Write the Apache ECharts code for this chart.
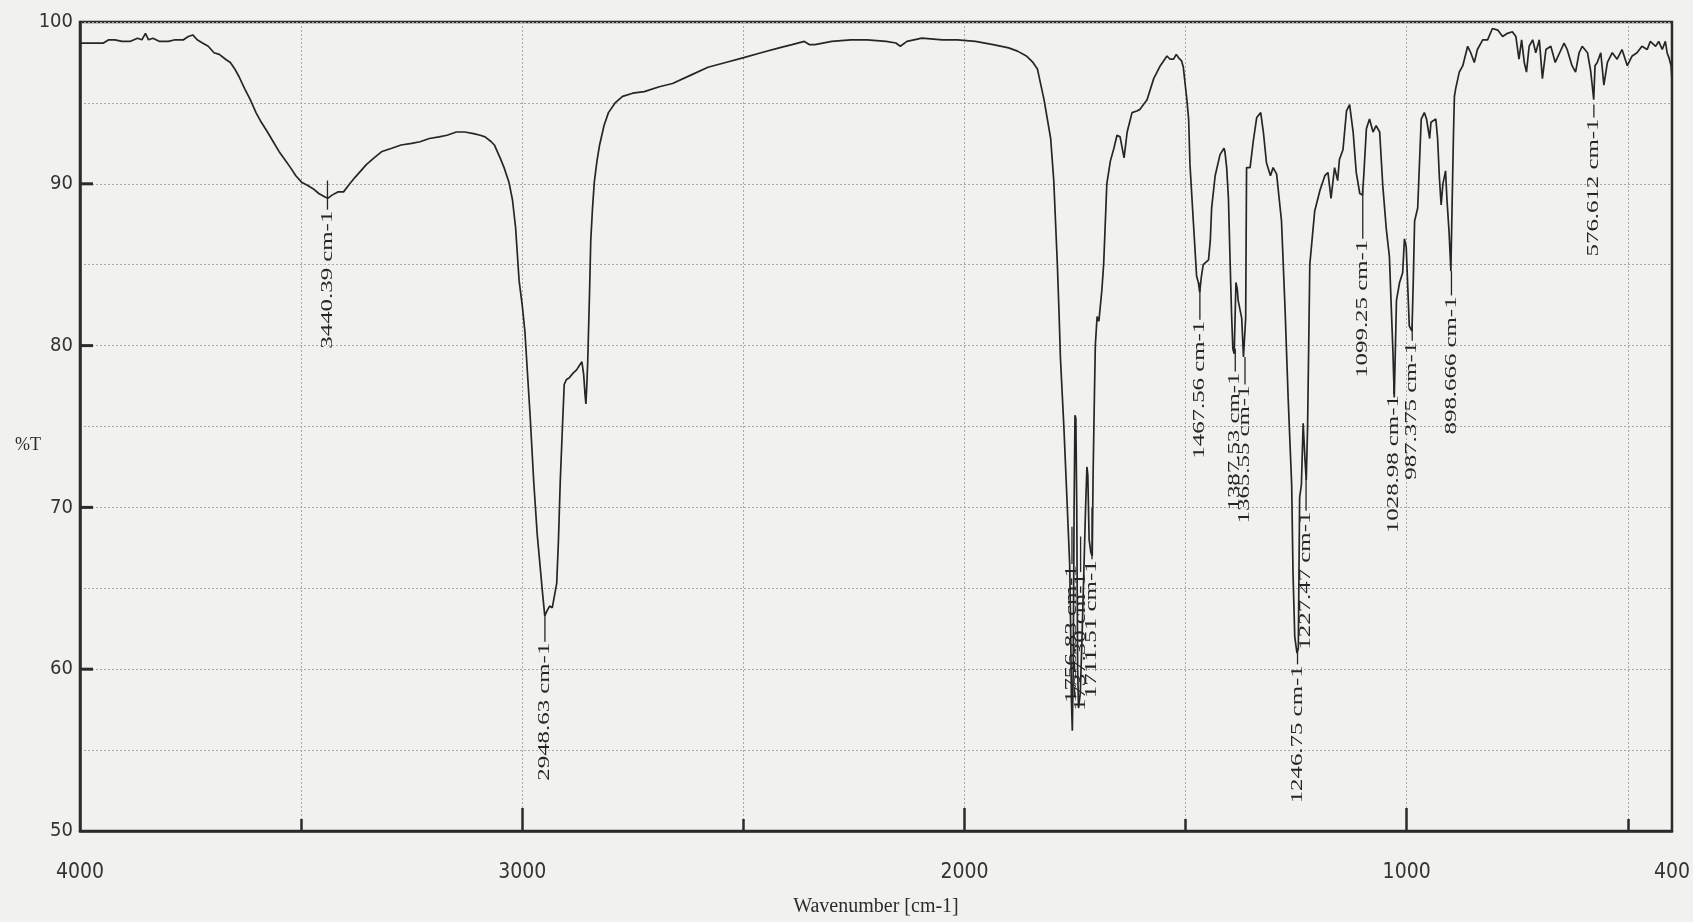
<!DOCTYPE html>
<html>
<head>
<meta charset="utf-8">
<script src="https://cdn.jsdelivr.net/npm/echarts@6/dist/echarts.min.js"></script>
<style>
html,body{margin:0;padding:0;background:#f1f1ef;}
#chart{width:1693px;height:922px;}
</style>
</head>
<body>
<div id="chart"></div>
<script>
// Wavenumber (cm-1) and transmittance (%T)
const wavenumber = [
4000,3980,3960,3947,3935,3921,3905,3887,3870,3860,3852,3845,3835,3820,3800,3785,3766,3755,3745,3735,
3723,3710,3697,3685,3671,3660,3650,3640,3628,3615,3602,3590,3576,3563,3550,3537,3524,3512,3499,3485,
3473,3460,3447,3440,3430,3417,3404,3390,3378,3365,3352,3335,3317,3295,3274,3250,3231,3210,3188,3170,
3149,3130,3110,3095,3084,3070,3063,3050,3041,3030,3022,3015,3007,3000,2994,2982,2974,2966,2960,2954,
2949,2944,2938,2932,2922,2918,2914,2909,2905,2900,2894,2885,2877,2870,2865,2861,2858,2856,2854,2852,
2848,2845,2841,2837,2831,2825,2815,2805,2790,2773,2750,2724,2690,2660,2620,2580,2540,2499,2460,2419,
2390,2362,2350,2338,2300,2257,2220,2177,2155,2145,2130,2096,2050,2016,1975,1935,1900,1880,1860,1845,
1835,1820,1805,1798,1790,1786,1783,1775,1768,1762,1760,1758,1756,1754,1752,1750,1748,1746,1744,1742,
1738,1734,1730,1726,1723,1721,1718,1714,1711,1709,1706,1704,1700,1696,1693,1689,1685,1678,1670,1662,
1655,1648,1644,1639,1636,1632,1621,1610,1603,1595,1587,1572,1557,1542,1535,1527,1521,1516,1509,1505,
1497,1493,1490,1482,1475,1471,1468,1464,1460,1456,1448,1444,1441,1433,1422,1413,1411,1407,1403,1399,
1396,1393,1390,1388,1386,1383,1381,1373,1369,1366,1364,1362,1354,1347,1339,1330,1324,1317,1308,1302,
1294,1283,1275,1268,1260,1257,1253,1248,1245,1242,1238,1234,1230,1227,1224,1219,1208,1196,1185,1178,
1171,1163,1156,1152,1144,1136,1129,1121,1114,1106,1100,1097,1091,1084,1076,1069,1061,1054,1046,1039,
1031,1028,1023,1016,1009,1005,1001,994,988,985,982,975,967,960,955,948,945,934,930,926,
922,918,912,909,904,900,897,894,892,889,881,873,862,855,847,840,828,817,806,794,
783,772,761,753,746,740,734,729,723,715,708,700,693,685,674,664,654,644,637,626,
618,610,603,591,584,580,577,574,569,561,554,546,535,524,513,501,490,479,468,456,
449,437,430,422,415,411,407,402,400
];
const transmittance = [
98.7,98.7,98.7,98.7,98.9,98.9,98.8,98.8,99.0,98.9,99.3,98.9,99.0,98.8,98.8,98.9,98.9,99.1,99.2,98.9,
98.7,98.5,98.1,98.0,97.7,97.5,97.1,96.6,95.9,95.2,94.4,93.8,93.2,92.6,92.0,91.5,91.0,90.5,90.1,89.9,
89.7,89.4,89.2,89.1,89.3,89.5,89.5,90.0,90.4,90.8,91.2,91.6,92.0,92.2,92.4,92.5,92.6,92.8,92.9,93.0,
93.2,93.2,93.1,93.0,92.9,92.6,92.4,91.6,91.0,90.1,89.0,87.3,84.0,82.5,80.9,75.6,71.6,68.3,66.5,64.7,
63.3,63.6,63.9,63.8,65.3,68.0,71.6,75.0,77.6,77.9,78.0,78.3,78.5,78.8,79.0,78.2,77.0,76.4,77.5,78.9,
83.0,86.5,88.5,90.1,91.4,92.4,93.6,94.4,95.0,95.4,95.6,95.7,96.0,96.2,96.7,97.2,97.5,97.8,98.1,98.4,
98.6,98.8,98.6,98.6,98.8,98.9,98.9,98.8,98.7,98.5,98.8,99.0,98.9,98.9,98.8,98.6,98.4,98.2,97.9,97.5,
97.1,95.2,92.8,90.2,85.1,82.0,79.3,74.9,70.4,66.5,63.0,58.0,56.2,60.0,70.0,75.7,75.5,70.0,60.0,57.6,
58.5,62.0,66.0,70.0,72.5,72.0,68.0,67.2,67.0,72.1,77.0,80.0,81.8,81.5,81.4,83.5,85.1,90.0,91.4,92.2,
93.0,92.9,92.8,91.6,91.6,93.2,94.4,94.5,94.6,94.9,95.2,96.5,97.3,97.9,97.7,97.7,98.0,97.8,97.6,97.2,
95.2,94.0,91.2,87.5,84.3,83.9,83.3,84.3,85.0,85.1,85.3,86.5,88.5,90.5,91.8,92.2,92.0,91.0,89.1,85.0,
82.0,79.8,79.5,79.6,83.9,83.5,82.8,81.7,79.3,79.2,81.7,91.0,91.0,92.6,94.1,94.4,93.2,91.3,90.5,91.0,
90.6,87.7,82.3,76.8,71.4,66.0,62.0,61.0,61.3,70.6,71.4,75.2,73.0,71.7,75.0,85.0,88.3,89.6,90.5,90.7,
89.1,91.0,90.2,91.5,92.1,94.5,94.9,93.2,90.7,89.4,89.3,90.5,93.4,94.0,93.2,93.6,93.2,89.9,87.2,85.5,
79.6,76.8,82.8,83.9,84.5,86.6,86.1,81.2,80.9,84.0,87.7,88.5,94.0,94.4,94.0,92.8,93.8,94.0,92.8,90.4,
88.7,90.0,90.8,89.1,87.0,84.6,89.0,93.2,95.4,95.9,96.9,97.3,98.5,98.1,97.5,98.3,98.9,98.9,99.6,99.5,
99.1,99.3,99.4,99.1,97.7,98.9,97.5,96.9,98.5,98.9,98.1,98.9,96.5,98.3,98.5,97.5,98.1,98.7,98.3,97.3,
96.9,98.1,98.5,98.1,97.0,96.0,95.2,97.3,97.5,98.1,96.1,97.5,98.1,97.7,98.3,97.3,97.9,98.1,98.5,98.3,
98.8,98.5,98.8,98.3,98.8,98.1,97.8,97.3,96.5
];

// Peak annotations: text, wavenumber, leader top (%T), text top (%T)
const peakLabels = ['3440.39 cm-1','2948.63 cm-1','1756.83 cm-1','1737.30 cm-1','1711.51 cm-1',
  '1467.56 cm-1','1387.53 cm-1','1365.55 cm-1','1246.75 cm-1','1227.47 cm-1','1099.25 cm-1',
  '1028.98 cm-1','987.375 cm-1','898.666 cm-1','576.612 cm-1'];
const peakWavenumber = [3440.39,2948.63,1756.83,1737.30,1711.51,1467.56,1387.53,1365.55,1246.75,1227.47,1099.25,1028.98,987.375,898.666,576.612];
const peakTop  = [90.2,63.5,68.8,68.2,70.0,83.9,79.8,79.3,61.3,71.8,89.6,77.6,81.3,84.6,94.9];
const peakText = [88.4,61.7,66.5,66.0,66.8,81.6,78.4,77.6,60.3,69.8,86.6,77.0,80.3,83.1,94.1];

const xLabelValues = [4000,3000,2000,1000,400];
const xMajorTicks = [3000,2000,1000];
const xMinorTicks = [3500,2500,1500,500];
const yLabelValues = [50,60,70,80,90,100];
const yMajorTicks = [60,70,80,90];

const spectrum = wavenumber.map((w,i)=>[w, transmittance[i]]);
const peaks = peakWavenumber.map((w,i)=>[w, peakTop[i], peakText[i]]);
const yTickData = yMajorTicks.map(v=>[4000, v]);

const ink = '#2b2b2b';
const gridLine = {show:true, lineStyle:{color:'#a8a8a8', width:1, type:[2,2]}};
const labelFont = '16px "Liberation Serif", "Times New Roman", serif';
const tickFont = '"Liberation Sans Narrow", "DejaVu Sans Condensed", Arial, sans-serif';
const measureCtx = document.createElement('canvas').getContext('2d');
measureCtx.font = labelFont;

const chart = echarts.init(document.getElementById('chart'), null, {renderer:'canvas'});
chart.setOption({
  animation:false,
  backgroundColor:'#f1f1ef',
  grid:{left:80, right:18, top:22, bottom:80, show:true, borderColor:ink, borderWidth:2.5, backgroundColor:'transparent'},
  xAxis:[{
    type:'value', min:400, max:4000, inverse:true, position:'bottom',
    name:'Wavenumber [cm-1]', nameLocation:'middle', nameGap:66,
    nameTextStyle:{fontFamily:'"Liberation Serif", "Times New Roman", serif', fontSize:20, color:ink},
    axisLine:{show:true, lineStyle:{color:ink, width:2.5}},
    axisTick:{show:true, inside:true, length:23, lineStyle:{color:ink, width:2.5}, customValues:xMajorTicks},
    axisLabel:{show:true, customValues:xLabelValues, margin:31, color:'#333',
      fontFamily:tickFont, fontSize:21, formatter:v => String(v)},
    splitLine:gridLine
  },{
    type:'value', min:400, max:4000, inverse:true, position:'bottom',
    axisLine:{show:false},
    axisTick:{show:true, inside:true, length:12, lineStyle:{color:ink, width:2.5}, customValues:xMinorTicks},
    axisLabel:{show:false},
    splitLine:gridLine
  }],
  yAxis:[{
    type:'value', min:50, max:100, interval:10, position:'left',
    axisLine:{show:true, lineStyle:{color:ink, width:2.5}},
    axisTick:{show:false},
    axisLabel:{show:true, margin:7, color:'#333', fontFamily:tickFont, fontSize:20,
      customValues:yLabelValues, formatter:v => String(v)},
    splitLine:gridLine
  },{
    type:'value', min:50, max:100, interval:5, position:'left',
    axisLine:{show:false},
    axisTick:{show:false},
    axisLabel:{show:false},
    splitLine:gridLine
  }],
  graphic:[{type:'text', left:15, top:436, style:{text:'%T', font:'18px "Liberation Serif", serif', fill:ink}}],
  series:[{
    type:'line', xAxisIndex:0, yAxisIndex:0, data:spectrum, showSymbol:false, symbol:'none',
    lineStyle:{color:'#262626', width:1.7}, z:3
  },{
    type:'custom', xAxisIndex:0, yAxisIndex:0, data:yTickData, z:5, clip:false,
    renderItem:function(params, api){
      const p = api.coord([api.value(0), api.value(1)]);
      return {type:'line', shape:{x1:p[0], y1:p[1], x2:p[0]+13, y2:p[1]}, style:{stroke:ink, lineWidth:3}};
    }
  },{
    type:'custom', xAxisIndex:0, yAxisIndex:0, data:peaks, z:4, clip:false,
    renderItem:function(params, api){
      const i = params.dataIndex;
      const a = api.coord([api.value(0), api.value(1)]);
      const b = api.coord([api.value(0), api.value(2)]);
      const txt = peakLabels[i];
      const s = 138 / measureCtx.measureText(txt).width;
      return {type:'group', children:[
        {type:'line', shape:{x1:a[0], y1:a[1], x2:b[0], y2:b[1]}, style:{stroke:'#262626', lineWidth:1.3}},
        {type:'text', x:b[0], y:b[1]+1, rotation:Math.PI/2, scaleX:s, scaleY:1,
          style:{text:txt, font:labelFont, fill:'#262626', align:'right', verticalAlign:'middle'}}
      ]};
    }
  }]
});
</script>
</body>
</html>
